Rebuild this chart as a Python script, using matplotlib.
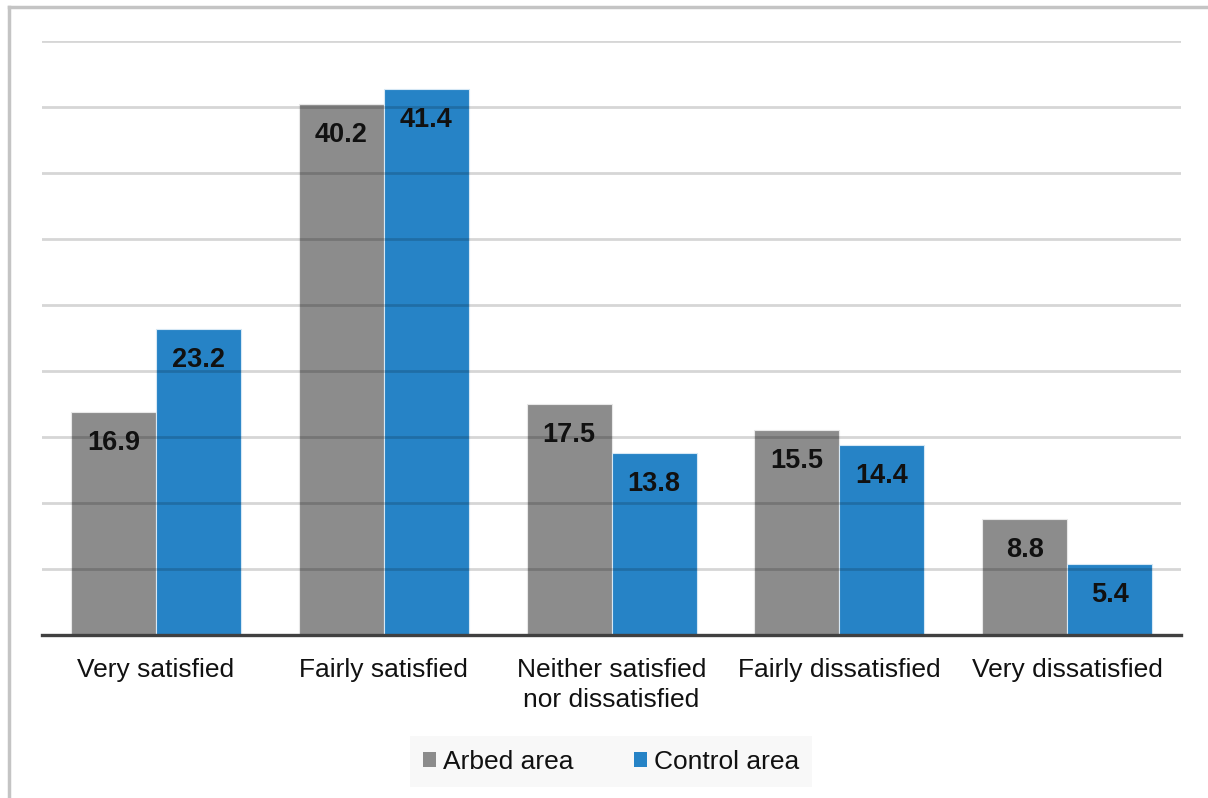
import matplotlib
matplotlib.use("Agg")
import matplotlib.pyplot as plt
import numpy as np
from matplotlib.lines import Line2D
from matplotlib.patches import Patch

plt.rcParams['font.family'] = ['Liberation Sans', 'DejaVu Sans']

categories = ["Very satisfied", "Fairly satisfied", "Neither satisfied\nnor dissatisfied",
              "Fairly dissatisfied", "Very dissatisfied"]
arbed = [16.9, 40.2, 17.5, 15.5, 8.8]
control = [23.2, 41.4, 13.8, 14.4, 5.4]
series_names = ["Arbed area", "Control area"]
colors = ["#8c8c8c", "#2683c6"]

fig = plt.figure(figsize=(12.08, 7.98), dpi=100)
ax = fig.add_axes([0.0348, 0.2043, 0.943, 0.7443])

x = np.arange(len(categories))
w = 0.373
b1 = ax.bar(x - w / 2, arbed, w, color=colors[0], edgecolor="#e8e8e8", linewidth=0.8, zorder=2)
b2 = ax.bar(x + w / 2, control, w, color=colors[1], edgecolor="#d6e8f5", linewidth=0.8, zorder=2)

# value labels just inside the top of each bar
for bars, vals in ((b1, arbed), (b2, control)):
    for rect, v in zip(bars, vals):
        ax.annotate(f"{v:.1f}", (rect.get_x() + rect.get_width() / 2, v),
                    xytext=(0, -31), textcoords="offset pixels",
                    ha="center", va="center", fontsize=19.5, fontweight="bold",
                    color="#111111", zorder=4)

ax.set_xlim(-0.5, len(categories) - 0.5)
ax.set_ylim(0, 45)
ax.set_yticks(np.arange(5, 46, 5))
ax.yaxis.grid(True, color="black", alpha=0.16, linewidth=2, zorder=3)
ax.set_axisbelow(False)
ax.tick_params(axis="y", left=False, labelleft=False)
ax.tick_params(axis="x", bottom=False, pad=13)
ax.set_xticks(x)
ax.set_xticklabels(categories, fontsize=19, color="#111111", linespacing=1.3)
for sp in ("top", "right", "left"):
    ax.spines[sp].set_visible(False)
ax.spines["bottom"].set_color("#404040")
ax.spines["bottom"].set_linewidth(2.4)
ax.spines["bottom"].set_zorder(5)

handles = [Patch(facecolor=c, edgecolor="none") for c in colors]
leg = fig.legend(handles, series_names, loc="center", bbox_to_anchor=(0.506, 0.0455),
                 ncol=2, fontsize=19, frameon=True, handlelength=0.5, handleheight=0.5,
                 handletextpad=0.25, columnspacing=2.3, borderpad=0.5, borderaxespad=0,
                 fancybox=False)
leg.get_frame().set_facecolor("#f7f7f7")
leg.get_frame().set_edgecolor("none")
for t in leg.get_texts():
    t.set_color("#111111")

# outer frame (top and left edges visible)
fig.add_artist(Line2D([9 / 1208, 1.0], [1 - 7 / 798, 1 - 7 / 798], transform=fig.transFigure,
                      color="#c4c4c4", linewidth=2.5))
fig.add_artist(Line2D([9 / 1208, 9 / 1208], [0.0, 1 - 7 / 798], transform=fig.transFigure,
                      color="#c4c4c4", linewidth=2.5))

fig.savefig("out.png", dpi=100, facecolor="white")
